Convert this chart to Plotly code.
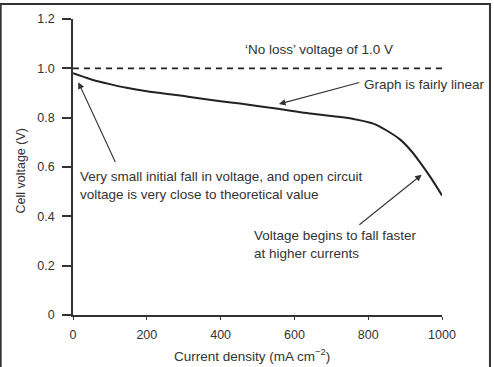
import plotly.graph_objects as go

# Data
current = [0, 50, 100, 145, 200, 290, 317, 400, 453, 550, 642, 724, 760, 814, 850, 886, 915, 940, 970, 1000]
voltage = [0.980, 0.955, 0.936, 0.921, 0.907, 0.890, 0.884, 0.867, 0.857, 0.837, 0.817, 0.803, 0.795, 0.776, 0.748, 0.712, 0.668, 0.620, 0.556, 0.485]
no_loss_x = [0, 1000]
no_loss_y = [1.0, 1.0]
x_ticks = [0, 200, 400, 600, 800, 1000]
y_ticks = [0, 0.2, 0.4, 0.6, 0.8, 1.0, 1.2]
y_tick_text = ["0", "0.2", "0.4", "0.6", "0.8", "1.0", "1.2"]

FONT = "Liberation Sans, Arial, sans-serif"
TXT = "#333333"
ANN = 13.5

fig = go.Figure()
fig.add_trace(go.Scatter(x=no_loss_x, y=no_loss_y, mode="lines",
                         line=dict(color="#222222", width=1.6, dash="6px,5px"),
                         hoverinfo="skip", showlegend=False))
fig.add_trace(go.Scatter(x=current, y=voltage, mode="lines", line_shape="spline",
                         line=dict(color="#222222", width=2, smoothing=0.8),
                         hoverinfo="skip", showlegend=False))

# text annotations
texts = [
    dict(x=462, y=1.075, text="\u2018No loss\u2019 voltage of 1.0 V"),
    dict(x=783, y=0.936, text="Graph is fairly linear"),
    dict(x=13.5, y=0.526, text="Very small initial fall in voltage, and open circuit<br>voltage is very close to theoretical value"),
    dict(x=485, y=0.285, text="Voltage begins to fall faster<br>at higher currents"),
]
for t in texts:
    fig.add_annotation(x=t["x"], y=t["y"], xref="x", yref="y", text=t["text"],
                       showarrow=False, xanchor="left", yanchor="middle", align="left",
                       font=dict(family=FONT, size=ANN, color=TXT))

# arrows (tip, tail) in data units
arrows = [
    ((14.4, 0.944), (116.5, 0.614)),
    ((558, 0.855), (780, 0.944)),
    ((945, 0.569), (772, 0.361)),
]
for (tx, ty), (sx, sy) in arrows:
    fig.add_annotation(x=tx, y=ty, ax=sx, ay=sy, xref="x", yref="y", axref="x", ayref="y",
                       text="", showarrow=True, arrowhead=2, arrowsize=1.2, arrowwidth=1.1,
                       arrowcolor="#333333")

# axis titles
fig.add_annotation(x=-0.141, y=0.488, xref="paper", yref="paper", text="Cell voltage (V)",
                   textangle=-90, showarrow=False, xanchor="center", yanchor="middle",
                   font=dict(family=FONT, size=12.5, color=TXT))
fig.add_annotation(x=0.485, y=-0.134, xref="paper", yref="paper",
                   text="Current density (mA cm<sup>\u22122</sup>)",
                   showarrow=False, xanchor="center", yanchor="middle",
                   font=dict(family=FONT, size=13.5, color=TXT))

# outer frame
fig.add_shape(type="rect", xref="paper", yref="paper", x0=-0.196, x1=1.130, y0=-0.2, y1=1.051,
              line=dict(color="#333333", width=2), fillcolor="rgba(0,0,0,0)")

fig.update_layout(
    width=494, height=367,
    margin=dict(l=73, r=52, t=16, b=52),
    paper_bgcolor="white", plot_bgcolor="white",
    font=dict(family=FONT, size=12, color=TXT),
    showlegend=False,
)
fig.update_xaxes(range=[0, 1000], tickvals=x_ticks, showgrid=False, zeroline=False,
                 showline=True, linecolor="#333333", linewidth=1.5,
                 ticks="outside", ticklen=3, tickwidth=1.2, tickcolor="#333333",
                 ticklabelstandoff=4, tickfont=dict(family=FONT, size=12.5, color=TXT))
fig.update_yaxes(range=[0, 1.2], tickvals=y_ticks, ticktext=y_tick_text, showgrid=False,
                 zeroline=False, showline=True, linecolor="#333333", linewidth=1.5,
                 ticks="outside", ticklen=9, tickwidth=1.5, tickcolor="#333333",
                 ticklabelstandoff=5, tickfont=dict(family=FONT, size=12.5, color=TXT))

fig.write_html("out.html")
